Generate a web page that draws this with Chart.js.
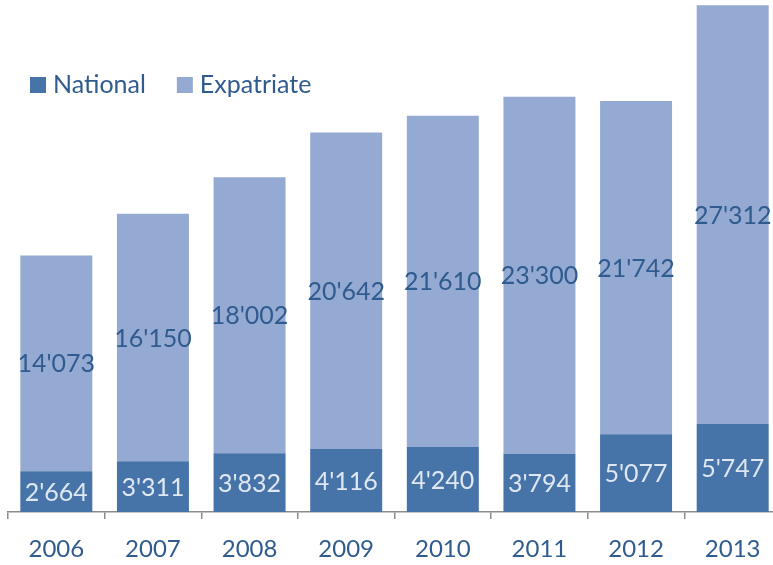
<!DOCTYPE html>
<html>
<head>
<meta charset="utf-8">
<script src="https://cdn.jsdelivr.net/npm/chart.js@4"></script>
<style>
  html, body { margin: 0; padding: 0; background: #fff; overflow: hidden; }
  #wrap { width: 790px; height: 565px; }
</style>
</head>
<body>
<div id="wrap"><canvas id="myChart" width="790" height="565"></canvas></div>
<script>
// Daten
const years = ['2006', '2007', '2008', '2009', '2010', '2011', '2012', '2013'];
const values_national = [2664, 3311, 3832, 4116, 4240, 3794, 5077, 5747];
const values_expat = [14073, 16150, 18002, 20642, 21610, 23300, 21742, 27312];

const colNational = '#4673a8';
const colExpat = '#95aad2';
const colText = '#2f5b8e';
const fontFam = 'Lato, "Open Sans", sans-serif';

// Zahlen mit Apostroph als Tausendertrenner
function fmt(v) {
    return String(v).replace(/\B(?=(\d{3})+(?!\d))/g, "'");
}

// Werte in die Balken schreiben
const barLabels = {
    id: 'barLabels',
    afterDatasetsDraw(chart) {
        const ctx = chart.ctx;
        ctx.save();
        ctx.font = '25px ' + fontFam;
        ctx.textAlign = 'center';
        ctx.textBaseline = 'middle';
        chart.data.datasets.forEach((ds, i) => {
            const meta = chart.getDatasetMeta(i);
            meta.data.forEach((bar, j) => {
                const p = bar.getProps(['x', 'y', 'base'], true);
                ctx.fillStyle = i === 0 ? '#dfe7f2' : colText;
                ctx.fillText(fmt(ds.data[j]), p.x, (p.y + p.base) / 2 + 1);
            });
        });
        ctx.restore();
    }
};

// Legende oben links
const customLegend = {
    id: 'customLegend',
    afterDraw(chart) {
        const ctx = chart.ctx;
        ctx.save();
        ctx.font = '25px ' + fontFam;
        ctx.textBaseline = 'middle';
        let x = 30;
        const y = 85;
        chart.data.datasets.forEach(ds => {
            ctx.fillStyle = ds.backgroundColor;
            ctx.fillRect(x, y - 8, 16, 16);
            ctx.fillStyle = colText;
            ctx.fillText(ds.label, x + 23, y);
            x += 23 + ctx.measureText(ds.label).width + 31;
        });
        ctx.restore();
    }
};

var ctx = document.getElementById('myChart').getContext('2d');
var myChart = new Chart(ctx, {
    type: 'bar',
    data: {
        labels: years,
        datasets: [
            {
                label: 'National',
                data: values_national,
                backgroundColor: colNational,
                barPercentage: 0.745,
                categoryPercentage: 1.0,
            },
            {
                label: 'Expatriate',
                data: values_expat,
                backgroundColor: colExpat,
                barPercentage: 0.745,
                categoryPercentage: 1.0,
            },
        ]
    },
    options: {
        responsive: false,
        animation: false,
        layout: { padding: { left: 8, right: 9, top: 0, bottom: 3 } },
        plugins: {
            legend: { display: false },
            tooltip: { enabled: false },
        },
        scales: {
            x: {
                stacked: true,
                border: { display: true, color: '#8c8c8c', width: 1.5 },
                grid: {
                    display: true,
                    offset: true,
                    drawOnChartArea: false,
                    drawTicks: true,
                    tickLength: 7,
                    color: '#8c8c8c',
                    lineWidth: 1.5,
                },
                ticks: {
                    color: colText,
                    font: { family: fontFam, size: 24 },
                    padding: 16,
                    maxRotation: 0,
                },
                afterFit(scale) { scale.height = 50; },
            },
            y: {
                stacked: true,
                display: false,
                min: 0,
                max: 33400,
            }
        }
    },
    plugins: [barLabels, customLegend]
});
</script>
</body>
</html>
